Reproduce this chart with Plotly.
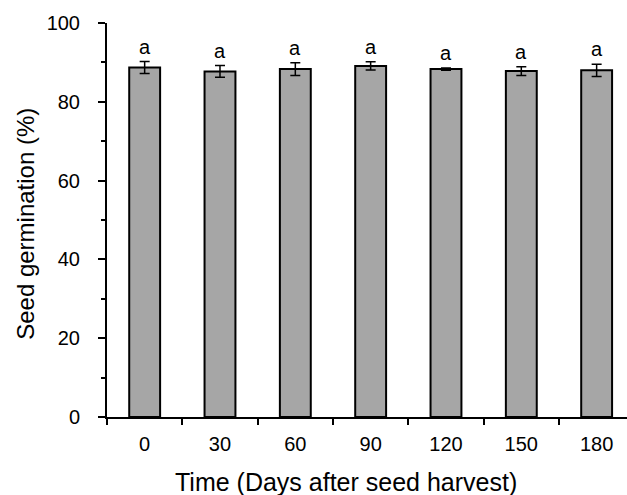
import plotly.graph_objects as go

# Seed germination over storage time after harvest
days = ["0", "30", "60", "90", "120", "150", "180"]
germination = [88.7, 87.7, 88.3, 89.1, 88.3, 87.8, 88.0]
std_err = [1.5, 1.5, 1.6, 1.05, 0.3, 1.1, 1.55]
letters = ["a", "a", "a", "a", "a", "a", "a"]

FONT = "Liberation Sans, Arial, sans-serif"

fig = go.Figure()
fig.add_trace(go.Bar(
    x=days,
    y=germination,
    width=0.41,
    marker=dict(color="#a6a6a6", line=dict(color="black", width=2)),
    error_y=dict(type="data", array=std_err, visible=True,
                 color="black", thickness=1.5, width=5),
    hoverinfo="skip",
))

# significance letters above each bar (category index as position)
for i, (g, e, t) in enumerate(zip(germination, std_err, letters)):
    fig.add_annotation(x=i, y=g + e, text=t, showarrow=False,
                       yanchor="bottom", yshift=2,
                       font=dict(family=FONT, size=20, color="black"))

# axis titles as paper annotations
fig.add_annotation(xref="paper", yref="paper", x=0.46, y=0,
                   xanchor="center", yanchor="middle", yshift=-65,
                   text="Time (Days after seed harvest)", showarrow=False,
                   font=dict(family=FONT, size=25, color="black"))
fig.add_annotation(xref="paper", yref="paper", x=-0.156, y=0.49,
                   xanchor="center", yanchor="middle", textangle=-90,
                   text="Seed germination (%)", showarrow=False,
                   font=dict(family=FONT, size=24, color="black"))

fig.update_layout(
    width=627, height=495,
    margin=dict(l=107, r=0, t=23, b=78),
    paper_bgcolor="white", plot_bgcolor="white",
    showlegend=False,
    font=dict(family=FONT, color="black"),
)
fig.update_xaxes(
    type="category", range=[-0.5, 6.403],
    tickson="boundaries", ticks="outside", ticklen=6, tickwidth=1.5,
    tickcolor="black", showline=True, linecolor="black", linewidth=2,
    showgrid=False, zeroline=False, ticklabelstandoff=8,
    tickfont=dict(family=FONT, size=20, color="black"),
)
fig.update_yaxes(
    range=[0, 100], tickvals=[0, 20, 40, 60, 80, 100],
    ticks="outside", ticklen=7, tickwidth=1.5, tickcolor="black",
    minor=dict(tickvals=[10, 30, 50, 70, 90], ticks="outside", ticklen=4,
               tickwidth=1.5, tickcolor="black", showgrid=False),
    showline=True, linecolor="black", linewidth=2,
    showgrid=False, zeroline=False, ticklabelstandoff=14,
    tickfont=dict(family=FONT, size=20, color="black"),
)

fig.write_html("out.html")
